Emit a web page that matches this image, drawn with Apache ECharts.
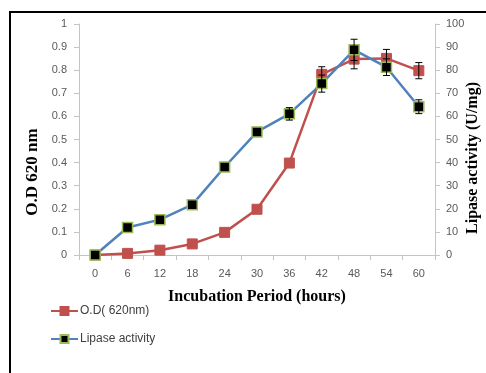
<!DOCTYPE html>
<html>
<head>
<meta charset="utf-8">
<script src="https://cdn.jsdelivr.net/npm/echarts@6/dist/echarts.min.js"></script>
<style>
html,body{margin:0;padding:0;background:#fff;}
#chart{width:486px;height:373px;}
</style>
</head>
<body>
<div id="chart"></div>
<script>
const hours = ['0','6','12','18','24','30','36','42','48','54','60'];
const odValues = [0, 0.007, 0.021, 0.048, 0.098, 0.198, 0.398, 0.782, 0.848, 0.851, 0.798];
const lipaseValues = [0, 11.9, 15.3, 21.8, 38.1, 53.3, 61.1, 74.2, 88.8, 81.3, 64.2];
const odErrors = [0, 0, 0, 0, 0, 0, 0, 0.033, 0.042, 0.039, 0.035];
const lipaseErrors = [0, 0, 0, 0, 0, 0, 2.7, 3.7, 4.6, 3.6, 3.0];
const odTicks = { min: 0, max: 1, interval: 0.1 };
const lipaseTicks = { min: 0, max: 100, interval: 10 };

const chart = echarts.init(document.getElementById('chart'), null, { renderer: 'canvas' });

function errData(vals, errs) {
  return vals.map((v, i) => [i, v, errs[i]]);
}
function errRender(params, api) {
  const e = api.value(2);
  if (!e) return null;
  const i = api.value(0), v = api.value(1);
  const top = api.coord([i, v + e]);
  const bot = api.coord([i, v - e]);
  const hw = 3.5;
  const st = { stroke: '#000', lineWidth: 1 };
  return {
    type: 'group',
    children: [
      { type: 'line', shape: { x1: top[0], y1: top[1], x2: bot[0], y2: bot[1] }, style: st },
      { type: 'line', shape: { x1: top[0] - hw, y1: top[1], x2: top[0] + hw, y2: top[1] }, style: st },
      { type: 'line', shape: { x1: bot[0] - hw, y1: bot[1], x2: bot[0] + hw, y2: bot[1] }, style: st }
    ]
  };
}

const axisColor = '#c4c4c4';
const labelStyle = { color: '#595959', fontFamily: 'Liberation Sans', fontSize: 11 };

chart.setOption({
  animation: false,
  backgroundColor: '#fff',
  grid: { left: 79, right: 51, top: 24, bottom: 118, containLabel: false },
  legend: {
    orient: 'vertical',
    left: 45,
    top: 300,
    itemWidth: 27,
    itemHeight: 10,
    itemGap: 16,
    textStyle: { color: '#404040', fontFamily: 'Liberation Sans', fontSize: 12, padding: [0, 0, 0, -3] },
    data: ['O.D( 620nm)', 'Lipase activity']
  },
  xAxis: {
    type: 'category',
    data: hours,
    boundaryGap: true,
    axisLine: { lineStyle: { color: axisColor, width: 1 } },
    axisTick: { show: true, length: 5, lineStyle: { color: axisColor } },
    axisLabel: Object.assign({ margin: 13 }, labelStyle),
    splitLine: { show: false }
  },
  yAxis: [
    {
      type: 'value', min: odTicks.min, max: odTicks.max, interval: odTicks.interval, position: 'left',
      axisLine: { show: true, lineStyle: { color: axisColor } },
      axisTick: { show: true, length: 5, lineStyle: { color: axisColor } },
      axisLabel: Object.assign({ margin: 12, formatter: v => String(Math.round(v * 10) / 10) }, labelStyle),
      splitLine: { show: false }
    },
    {
      type: 'value', min: lipaseTicks.min, max: lipaseTicks.max, interval: lipaseTicks.interval, position: 'right',
      axisLine: { show: true, lineStyle: { color: axisColor } },
      axisTick: { show: true, length: 5, lineStyle: { color: axisColor } },
      axisLabel: Object.assign({ margin: 11 }, labelStyle),
      splitLine: { show: false }
    }
  ],
  graphic: [
    { type: 'rect', shape: { x: 10, y: 12, width: 490, height: 380 }, style: { fill: 'none', stroke: '#000', lineWidth: 2 }, z: 100 },
    { type: 'text', x: 257, y: 297, style: { text: 'Incubation Period (hours)', font: 'bold 16px "Liberation Serif"', fill: '#000', textAlign: 'center', textVerticalAlign: 'middle' } },
    { type: 'text', x: 33, y: 172, rotation: Math.PI / 2, style: { text: 'O.D 620 nm', font: 'bold 17px "Liberation Serif"', fill: '#000', textAlign: 'center', textVerticalAlign: 'middle' } },
    { type: 'text', x: 473, y: 158, rotation: Math.PI / 2, style: { text: 'Lipase activity (U/mg)', font: 'bold 16px "Liberation Serif"', fill: '#000', textAlign: 'center', textVerticalAlign: 'middle' } }
  ],
  series: [
    {
      name: 'O.D( 620nm)', type: 'line', yAxisIndex: 0, data: odValues,
      symbol: 'rect', symbolSize: 10, z: 2,
      lineStyle: { color: '#c0504d', width: 2.5 },
      itemStyle: { color: '#c0504d', borderColor: '#c0504d', borderWidth: 1 }
    },
    {
      type: 'custom', yAxisIndex: 0, z: 3, data: errData(odValues, odErrors), renderItem: errRender,
      encode: { x: 0, y: 1 }, silent: true
    },
    {
      name: 'Lipase activity', type: 'line', yAxisIndex: 1, data: lipaseValues,
      symbol: 'rect', symbolSize: 10, z: 4,
      lineStyle: { color: '#4f81bd', width: 2.5 },
      itemStyle: { color: '#000', borderColor: '#9bbb59', borderWidth: 1.5 }
    },
    {
      type: 'custom', yAxisIndex: 1, z: 5, data: errData(lipaseValues, lipaseErrors), renderItem: errRender,
      encode: { x: 0, y: 1 }, silent: true
    }
  ]
});
</script>
</body>
</html>
